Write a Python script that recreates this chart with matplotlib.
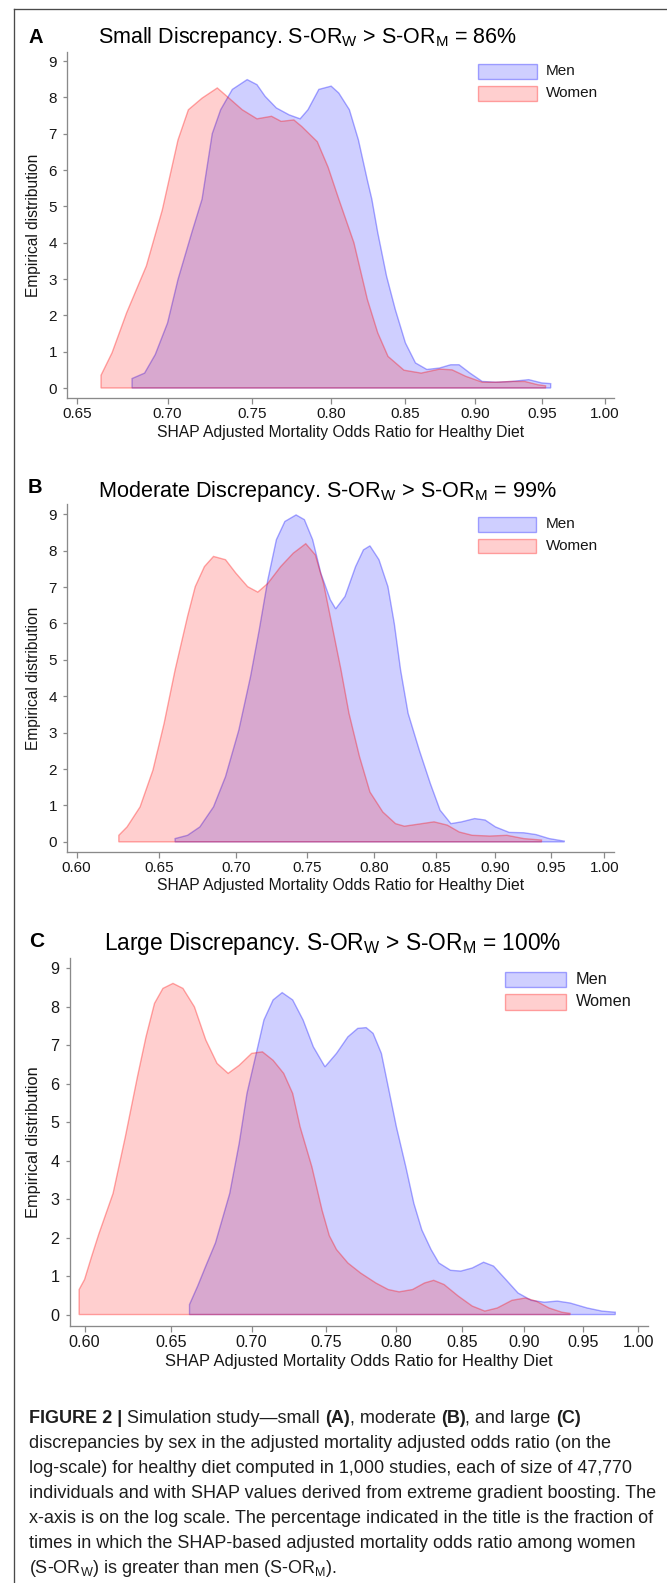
import numpy as np
import matplotlib
matplotlib.use("Agg")
import matplotlib.pyplot as plt
from matplotlib.patches import Rectangle
from matplotlib.lines import Line2D
from matplotlib.ticker import FixedLocator, FixedFormatter, NullLocator

plt.rcParams['font.family'] = ['Liberation Sans', 'DejaVu Sans']
plt.rcParams['mathtext.fontset'] = 'custom'
plt.rcParams['mathtext.rm'] = 'Liberation Sans'
plt.rcParams['mathtext.it'] = 'Liberation Sans:italic'
plt.rcParams['mathtext.bf'] = 'Liberation Sans:bold'

# ---------------- data ----------------
SERIES = ["Men", "Women"]
Y_TICKS = [0, 1, 2, 3, 4, 5, 6, 7, 8, 9]
X_TICKS_A = [0.65, 0.70, 0.75, 0.80, 0.85, 0.90, 0.95, 1.00]
X_TICKS_BC = [0.60, 0.65, 0.70, 0.75, 0.80, 0.85, 0.90, 0.95, 1.00]

TITLES = [
    r"Small Discrepancy. S-OR$_\mathregular{W}$ > S-OR$_\mathregular{M}$ = 86%",
    r"Moderate Discrepancy. S-OR$_\mathregular{W}$ > S-OR$_\mathregular{M}$ = 99%",
    r"Large Discrepancy. S-OR$_\mathregular{W}$ > S-OR$_\mathregular{M}$ = 100%",
]
LETTERS = ["A", "B", "C"]
X_LABEL = "SHAP Adjusted Mortality Odds Ratio for Healthy Diet"
Y_LABEL = "Empirical distribution"

A_MEN_X = [0.680, 0.687, 0.693, 0.700, 0.706, 0.714, 0.720, 0.726, 0.731, 0.738, 0.747,
           0.753, 0.758, 0.765, 0.773, 0.780, 0.785, 0.792, 0.800, 0.805, 0.812, 0.818,
           0.824, 0.827, 0.831, 0.837, 0.843, 0.850, 0.857, 0.865, 0.874, 0.882, 0.888,
           0.896, 0.905, 0.915, 0.927, 0.940, 0.950, 0.957]
A_MEN_Y = [0.26, 0.41, 0.92, 1.79, 2.99, 4.28, 5.20, 7.00, 7.66, 8.22, 8.49,
           8.35, 8.03, 7.71, 7.52, 7.41, 7.66, 8.22, 8.31, 8.12, 7.66, 6.83,
           5.72, 5.20, 4.28, 3.08, 2.16, 1.24, 0.69, 0.51, 0.55, 0.64, 0.64,
           0.41, 0.18, 0.16, 0.18, 0.23, 0.14, 0.12]
A_WOMEN_X = [0.663, 0.669, 0.677, 0.688, 0.697, 0.706, 0.712, 0.720, 0.729, 0.736, 0.744,
             0.753, 0.762, 0.768, 0.776, 0.781, 0.791, 0.798, 0.805, 0.815, 0.824, 0.831,
             0.838, 0.849, 0.861, 0.874, 0.883, 0.893, 0.905, 0.915, 0.927, 0.937, 0.947,
             0.953]
A_WOMEN_Y = [0.35, 0.97, 2.07, 3.36, 4.90, 6.83, 7.66, 7.98, 8.26, 7.98, 7.66,
             7.41, 7.48, 7.34, 7.38, 7.20, 6.78, 6.08, 5.20, 4.00, 2.44, 1.52,
             0.87, 0.49, 0.41, 0.52, 0.50, 0.32, 0.16, 0.16, 0.18, 0.18, 0.09,
             0.06]

B_MEN_X = [0.660, 0.668, 0.676, 0.685, 0.693, 0.702, 0.710, 0.716, 0.722, 0.728, 0.734,
           0.742, 0.748, 0.754, 0.760, 0.767, 0.771, 0.778, 0.786, 0.792, 0.797, 0.804,
           0.811, 0.816, 0.821, 0.827, 0.836, 0.845, 0.853, 0.862, 0.871, 0.882, 0.891,
           0.900, 0.912, 0.925, 0.936, 0.948, 0.962]
B_MEN_Y = [0.09, 0.18, 0.41, 0.96, 1.79, 3.07, 4.54, 5.82, 7.20, 8.30, 8.80,
           8.98, 8.85, 8.30, 7.38, 6.65, 6.40, 6.74, 7.56, 8.02, 8.13, 7.75,
           7.01, 6.00, 4.72, 3.53, 2.52, 1.60, 0.87, 0.50, 0.55, 0.64, 0.60,
           0.41, 0.26, 0.25, 0.20, 0.09, 0.02]
B_WOMEN_X = [0.625, 0.630, 0.638, 0.646, 0.653, 0.660, 0.668, 0.673, 0.679, 0.685, 0.693,
             0.700, 0.708, 0.715, 0.722, 0.731, 0.740, 0.749, 0.756, 0.762, 0.768, 0.775,
             0.781, 0.789, 0.797, 0.807, 0.817, 0.824, 0.836, 0.848, 0.859, 0.869, 0.880,
             0.895, 0.910, 0.925, 0.941]
B_WOMEN_Y = [0.18, 0.41, 0.96, 1.97, 3.25, 4.72, 6.19, 7.01, 7.56, 7.84, 7.75,
             7.38, 7.01, 6.86, 7.10, 7.56, 7.93, 8.19, 7.88, 7.10, 6.00, 4.72,
             3.53, 2.34, 1.37, 0.82, 0.50, 0.43, 0.49, 0.55, 0.46, 0.27, 0.18,
             0.16, 0.18, 0.09, 0.05]

C_MEN_X = [0.661, 0.666, 0.671, 0.677, 0.686, 0.692, 0.697, 0.703, 0.708, 0.714, 0.720,
           0.727, 0.734, 0.741, 0.749, 0.757, 0.765, 0.772, 0.778, 0.783, 0.789, 0.794,
           0.800, 0.807, 0.813, 0.819, 0.826, 0.832, 0.841, 0.849, 0.858, 0.867, 0.875,
           0.885, 0.895, 0.906, 0.917, 0.928, 0.939, 0.954, 0.967, 0.979]
C_MEN_Y = [0.26, 0.74, 1.26, 1.86, 3.15, 4.45, 5.75, 6.79, 7.66, 8.18, 8.37,
           8.18, 7.66, 6.96, 6.44, 6.79, 7.22, 7.44, 7.46, 7.31, 6.79, 5.92,
           4.88, 3.84, 2.89, 2.20, 1.69, 1.34, 1.15, 1.13, 1.21, 1.36, 1.26,
           0.91, 0.56, 0.37, 0.32, 0.35, 0.30, 0.17, 0.09, 0.06]
C_WOMEN_X = [0.597, 0.600, 0.604, 0.608, 0.616, 0.623, 0.630, 0.635, 0.640, 0.645, 0.651,
             0.657, 0.664, 0.671, 0.678, 0.685, 0.692, 0.700, 0.707, 0.714, 0.721, 0.727,
             0.732, 0.740, 0.747, 0.752, 0.757, 0.765, 0.774, 0.785, 0.794, 0.802, 0.812,
             0.821, 0.828, 0.836, 0.847, 0.858, 0.868, 0.878, 0.890, 0.901, 0.910, 0.921,
             0.932, 0.939]
C_WOMEN_Y = [0.65, 0.91, 1.52, 2.10, 3.15, 4.62, 6.18, 7.22, 8.09, 8.48, 8.61,
             8.48, 8.00, 7.14, 6.53, 6.27, 6.48, 6.79, 6.83, 6.61, 6.27, 5.75,
             4.88, 3.84, 2.71, 2.05, 1.69, 1.34, 1.08, 0.82, 0.65, 0.59, 0.65,
             0.82, 0.89, 0.78, 0.48, 0.22, 0.09, 0.17, 0.37, 0.43, 0.35, 0.17,
             0.06, 0.03]

CAPTION = [
    [("FIGURE 2 | ", "bold"), ("Simulation study\u2014small ", "normal"), ("(A)", "bold"),
     (", moderate ", "normal"), ("(B)", "bold"), (", and large ", "normal"), ("(C)", "bold")],
    [("discrepancies by sex in the adjusted mortality adjusted odds ratio (on the", "normal")],
    [("log-scale) for healthy diet computed in 1,000 studies, each of size of 47,770", "normal")],
    [("individuals and with SHAP values derived from extreme gradient boosting. The", "normal")],
    [("x-axis is on the log scale. The percentage indicated in the title is the fraction of", "normal")],
    [("times in which the SHAP-based adjusted mortality odds ratio among women", "normal")],
    [(r"(S-OR$_\mathregular{W}$) is greater than men (S-OR$_\mathregular{M}$).", "normal")],
]

# ---------------- layout / style ----------------
W, H = 667, 1583
fig = plt.figure(figsize=(W / 100, H / 100), dpi=100)
fig.patch.set_facecolor("white")
R = fig.canvas.get_renderer()

MEN_FACE = (0.0, 0.0, 1.0, 0.19)
MEN_EDGE = (0.0, 0.0, 1.0, 0.33)
WOM_FACE = (1.0, 0.0, 0.0, 0.19)
WOM_EDGE = (1.0, 0.0, 0.0, 0.33)
TXT = "#161616"
AXC = "#8a8a8a"


def fx(x):
    return x / W


def fy(y):
    return 1 - y / H


def fit(t, target, vertical=False):
    for _ in range(4):
        bb = t.get_window_extent(R)
        cur = bb.height if vertical else bb.width
        t.set_fontsize(t.get_fontsize() * target / cur)
    return t


# outer frame
fig.add_artist(Line2D([fx(14), 1.0], [fy(9), fy(9)], transform=fig.transFigure,
                      color="#4a4a4a", lw=0.95))
fig.add_artist(Line2D([fx(14), fx(14)], [fy(9), 0.0], transform=fig.transFigure,
                      color="#4a4a4a", lw=0.95))

panels = [
    dict(men=(A_MEN_X, A_MEN_Y), women=(A_WOMEN_X, A_WOMEN_Y), xticks=X_TICKS_A,
         box=(67.3, 52, 614.3, 397.7), xlim=(0.645, 1.008), ylim=(-0.267, 9.25),
         letter=(28.3, 43.3, 14.5), title=(97.8, 43.3, 419.0),
         ylab=(34, 225, 143.5), xlab=(340.8, 432.3, 366.0), tick=11.0,
         leg=(477.5, 536.7, 64.0, 78.5, 86.0, 100.5, 546.0, 11.0)),
    dict(men=(B_MEN_X, B_MEN_Y), women=(B_WOMEN_X, B_WOMEN_Y), xticks=X_TICKS_BC,
         box=(67.3, 504, 614.3, 851.7), xlim=(0.5946, 1.0097), ylim=(-0.27, 9.28),
         letter=(28.0, 493.3, 14.5), title=(97.8, 496.7, 457.2),
         ylab=(34, 678, 143.5), xlab=(340.8, 886.0, 366.6), tick=11.0,
         leg=(477.7, 536.0, 517.3, 531.7, 539.0, 553.0, 545.7, 11.0)),
    dict(men=(C_MEN_X, C_MEN_Y), women=(C_WOMEN_X, C_WOMEN_Y), xticks=X_TICKS_BC,
         box=(70.0, 958, 648.3, 1325.7), xlim=(0.592, 1.0093), ylim=(-0.29, 9.27),
         letter=(29.3, 947.3, 15.0), title=(104.0, 950.0, 457.5),
         ylab=(34, 1142, 151.5), xlab=(359.2, 1361.7, 387.0), tick=11.6,
         leg=(505.0, 566.0, 971.7, 986.7, 994.0, 1010.0, 576.0, 11.7)),
]

for i, p in enumerate(panels):
    l, t, r, b = p["box"]
    ax = fig.add_axes([fx(l), fy(b), (r - l) / W, (b - t) / H])
    ax.set_xscale("log")
    ax.set_xlim(*p["xlim"])
    ax.set_ylim(*p["ylim"])

    for (xs, ys), face, edge in ((p["men"], MEN_FACE, MEN_EDGE),
                                 (p["women"], WOM_FACE, WOM_EDGE)):
        xs = np.asarray(xs)
        ys = np.asarray(ys)
        px = np.r_[xs[0], xs, xs[-1]]
        py = np.r_[0.0, ys, 0.0]
        ax.fill(px, py, facecolor=face, edgecolor=edge, lw=1.0)

    ax.xaxis.set_major_locator(FixedLocator(p["xticks"]))
    ax.xaxis.set_major_formatter(FixedFormatter([f"{v:.2f}" for v in p["xticks"]]))
    ax.xaxis.set_minor_locator(NullLocator())
    ax.yaxis.set_major_locator(FixedLocator(Y_TICKS))
    ax.yaxis.set_major_formatter(FixedFormatter([str(v) for v in Y_TICKS]))
    for s in ("top", "right"):
        ax.spines[s].set_visible(False)
    for s in ("left", "bottom"):
        ax.spines[s].set_color(AXC)
        ax.spines[s].set_linewidth(0.95)
    ax.tick_params(axis="y", length=3.0, width=0.9, color=AXC, pad=4.4,
                   labelsize=p["tick"], labelcolor=TXT)
    ax.tick_params(axis="x", length=4.0, width=0.9, color=AXC, pad=2.6,
                   labelsize=p["tick"], labelcolor=TXT)

    # panel letter and title
    lx, lb, ls = p["letter"]
    fig.text(fx(lx), fy(lb), LETTERS[i], fontsize=ls, fontweight="bold", color="#000000",
             ha="left", va="baseline")
    tx, tb, tw = p["title"]
    tt = fig.text(fx(tx), fy(tb), TITLES[i], fontsize=15.5, color="#000000",
                  ha="left", va="baseline")
    fit(tt, tw)

    # axis labels
    yx, yy, yh = p["ylab"]
    yl = fig.text(fx(yx), fy(yy), Y_LABEL, rotation=90, fontsize=10.5, color=TXT,
                  ha="center", va="center")
    fit(yl, yh, vertical=True)
    xx, xy, xw = p["xlab"]
    xl = fig.text(fx(xx), fy(xy), X_LABEL, fontsize=10.5, color=TXT,
                  ha="center", va="center")
    fit(xl, xw)

    # legend
    x0, x1, m0, m1, w0, w1, tx0, lfs = p["leg"]
    for (y0, y1), face, edge, lab in (((m0, m1), MEN_FACE, MEN_EDGE, SERIES[0]),
                                      ((w0, w1), WOM_FACE, WOM_EDGE, SERIES[1])):
        fig.add_artist(Rectangle((fx(x0), fy(y1)), (x1 - x0) / W, (y1 - y0) / H,
                                 transform=fig.transFigure, facecolor=face,
                                 edgecolor=edge, lw=1.0))
        fig.text(fx(tx0), fy((y0 + y1) / 2), lab, fontsize=lfs, color=TXT,
                 ha="left", va="center")

# ---------------- caption ----------------
CAP_COLOR = "#1e1e1e"


def piece_width(s, weight, size):
    t1 = fig.text(0, 0, "|" + s + "|", fontsize=size, fontweight=weight)
    w1 = t1.get_window_extent(R).width
    t1.remove()
    t2 = fig.text(0, 0, "||", fontsize=size, fontweight=weight)
    w2 = t2.get_window_extent(R).width
    t2.remove()
    return w1 - w2


size = 12.0
for _ in range(3):
    cur = sum(piece_width(s, w, size) for s, w in CAPTION[3])
    size = size * 624.0 / cur

base0 = 1422.7
for k, line in enumerate(CAPTION):
    x = 29.0
    yb = base0 + 25.0 * k
    for s, w in line:
        fig.text(fx(x), fy(yb), s, fontsize=size, fontweight=w, color=CAP_COLOR,
                 ha="left", va="baseline")
        x += piece_width(s, w, size)

fig.savefig("out.png", dpi=100, facecolor="white")
